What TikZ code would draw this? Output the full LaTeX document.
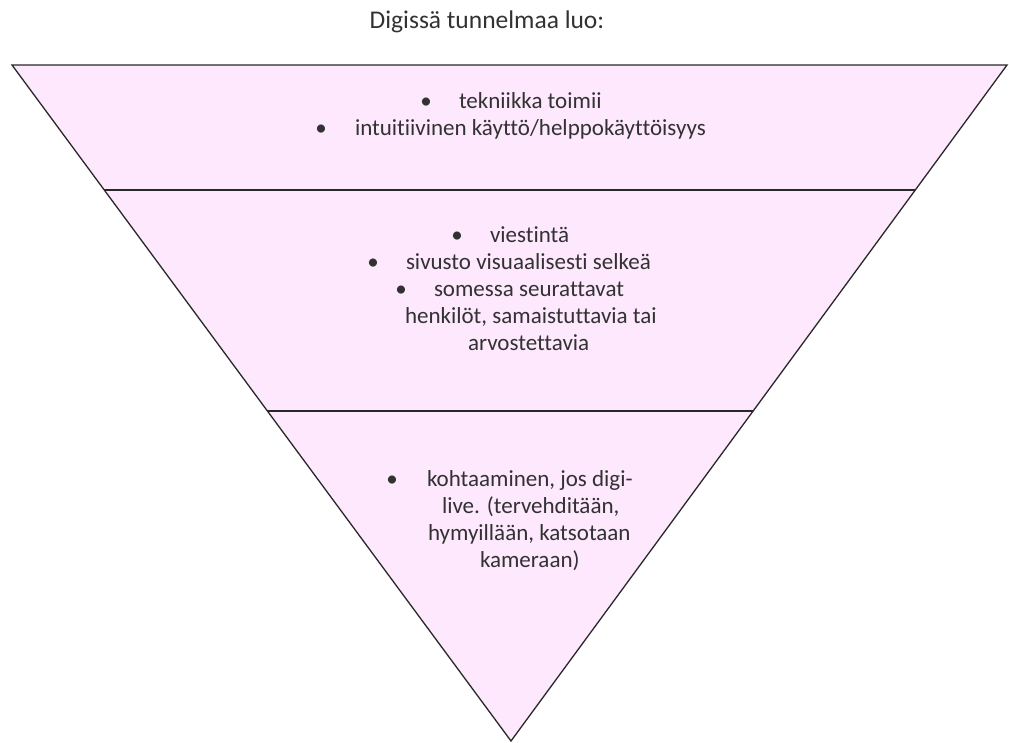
\documentclass[tikz,border=0pt]{standalone}
\usepackage{fontspec}
\usetikzlibrary{calc}
\setmainfont{Carlito}[Ligatures={NoCommon}]
\definecolor{funnelfill}{RGB}{253,232,253}
\definecolor{funneledge}{RGB}{40,40,40}
\definecolor{textgray}{RGB}{50,50,50}
\begin{document}
\begin{tikzpicture}[x=1pt,y=-1pt,
  every node/.style={inner sep=0pt,outer sep=0pt,text=textgray,font=\fontsize{23}{27}\selectfont},
  line/.style={anchor=mid west},
  dot/.style={anchor=mid},
  edge/.style={draw=funneledge,line width=1.3pt}]
\useasboundingbox (0,0) rectangle (1009,742);
% funnel outline
\coordinate (tl) at (12,65);
\coordinate (tr) at (1007,65);
\coordinate (ap) at (511,741);
\fill[funnelfill] (tl) -- (tr) -- (ap) -- cycle;
% dividers between the three levels
\draw[edge] ($(tl)!0.1849!(ap)$) coordinate (d1l) -- ($(tr)!0.1849!(ap)$) coordinate (d1r);
\draw[edge] ($(tl)!0.5118!(ap)$) coordinate (d2l) -- ($(tr)!0.5118!(ap)$) coordinate (d2r);
\draw[edge,line join=miter] (tl) -- (tr) -- (ap) -- cycle;
% title
\node[font=\fontsize{25.5}{30}\selectfont] (title) at (487,22) {Digissä tunnelmaa luo:};
% top level
\node[dot] (b1) at (426,106) {•};
\node[line] (t1) at (459,106) {tekniikka toimii};
\node[dot] (b2) at (321,133) {•};
\node[line] (t2) at (355,133) {intuitiivinen käyttö/helppokäyttöisyys};
% middle level
\node[dot] (b3) at (457,240) {•};
\node[line] (t3) at (490,240) {viestintä};
\node[dot] (b4) at (373,267) {•};
\node[line] (t4) at (406,267) {sivusto visuaalisesti selkeä};
\node[dot] (b5) at (401,294) {•};
\node[line] (t5) at (434,294) {somessa seurattavat};
\node[line] (t6) at (405,321) {henkilöt, samaistuttavia tai};
\node[line] (t7) at (468,348) {arvostettavia};
% bottom level
\node[dot] (b6) at (392,484) {•};
\node[line] (t8) at (427,484) {kohtaaminen, jos digi-};
\node[line] (t9) at (442,511) {live. (tervehditään,};
\node[line] (t10) at (428,538) {hymyillään, katsotaan};
\node[line] (t11) at (480,565) {kameraan)};
\end{tikzpicture}
\end{document}
